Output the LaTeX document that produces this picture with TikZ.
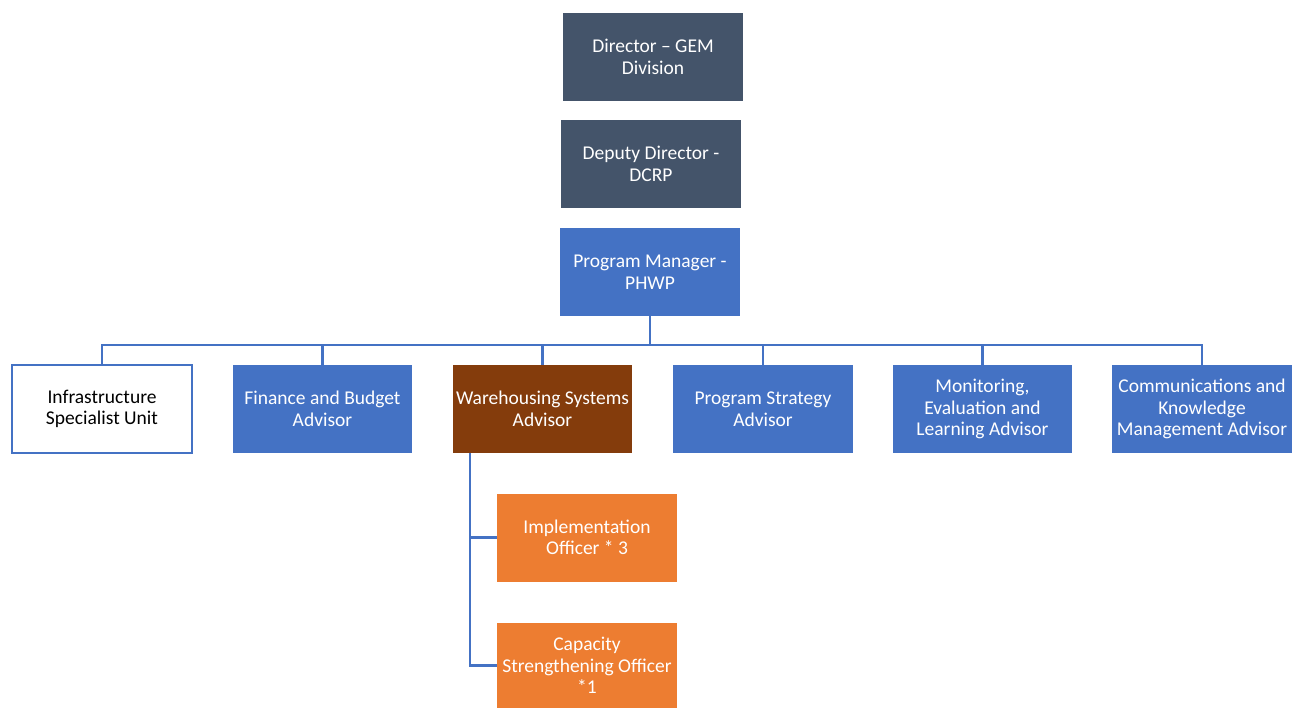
\documentclass[tikz,border=0pt]{standalone}
\usepackage{fontspec}
\setmainfont{Carlito}
\usetikzlibrary{calc}
\definecolor{slate}{HTML}{44546A}
\definecolor{ablue}{HTML}{4472C4}
\definecolor{abrown}{HTML}{843C0C}
\definecolor{aorange}{HTML}{ED7D31}
\tikzset{
  box/.style={rectangle, inner sep=0pt, minimum width=180pt, minimum height=88pt, align=center, text=white,
    font=\fontsize{19.5}{21.5}\selectfont},
  topbox/.style={box, fill=slate},
  bluebox/.style={box, fill=ablue},
  brownbox/.style={box, fill=abrown},
  orangebox/.style={box, fill=aorange},
  whitebox/.style={box, fill=white, draw=ablue, line width=2pt, text=black, minimum width=180pt, minimum height=88pt},
  conn/.style={draw=ablue, line width=2.2pt},
}
\begin{document}
\begin{tikzpicture}[x=1pt, y=-1pt]
\useasboundingbox (0,0) rectangle (1292,708);
\node[topbox] (dir) at (653,57) {Director – GEM\\Division};
\node[topbox] (dep) at (651,164) {Deputy Director -\\DCRP};
\node[bluebox] (pm) at (650,272) {Program Manager -\\PHWP};

\node[whitebox] (infra) at (102,409) {Infrastructure\\Specialist Unit};
\node[bluebox, minimum width=179pt] (fin) at (322.5,409) {Finance and Budget\\Advisor};
\node[brownbox, minimum width=179pt] (wh) at (542.5,409) {Warehousing Systems\\Advisor};
\node[bluebox] (ps) at (763,409) {Program Strategy\\Advisor};
\node[bluebox, minimum width=179pt] (me) at (982.5,409) {Monitoring,\\Evaluation and\\Learning Advisor};
\node[bluebox] (cm) at (1202,409) {Communications and\\Knowledge\\Management Advisor};

\node[orangebox] (impl) at (587,537.5) {Implementation\\Officer * 3};
\node[orangebox, minimum height=85pt] (cap) at (587,665.5) {Capacity\\Strengthening Officer\\*1};

\coordinate (bus) at (650,345);
\draw[conn] (pm.south) -- (bus);
\foreach \c in {infra,fin,wh,ps,me,cm} {
  \draw[conn] (bus) -| (\c.north);
}
\coordinate (whs) at ($(wh.south west)+(17,0)$);
\draw[conn] (whs) |- (impl.west);
\draw[conn] (whs) |- (cap.west);
\end{tikzpicture}
\end{document}
